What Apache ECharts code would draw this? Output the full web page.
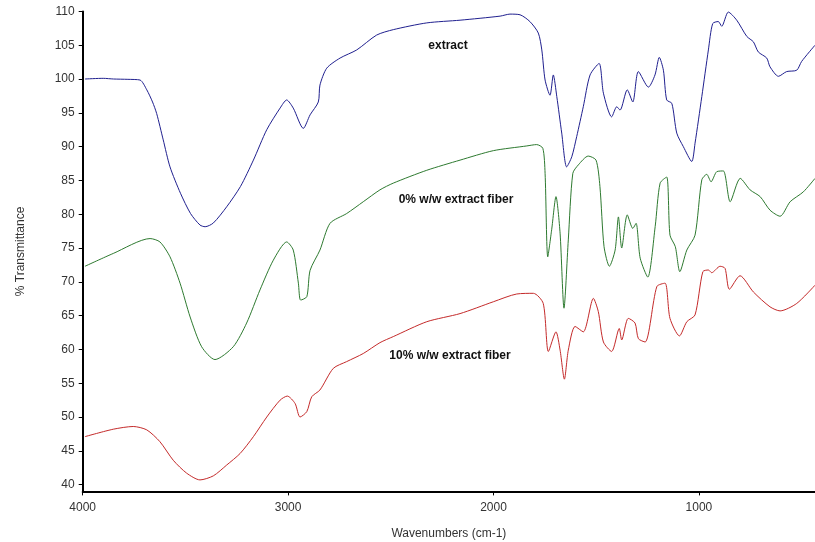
<!DOCTYPE html>
<html>
<head>
<meta charset="utf-8">
<title>FTIR spectra</title>
<script src="https://cdn.jsdelivr.net/npm/echarts@6/dist/echarts.min.js"></script>
<style>
  html, body { margin: 0; padding: 0; background: #ffffff; }
  #chart { width: 815px; height: 542px; }
</style>
</head>
<body>
<div id="chart"></div>
<script>
// Spectrum labels and axis ticks
const seriesNames = ['extract', '0% w/w extract fiber', '10% w/w extract fiber'];
const xTicks = [1000, 2000, 3000, 4000];
const yTicks = [40, 45, 50, 55, 60, 65, 70, 75, 80, 85, 90, 95, 100, 105, 110];

// [wavenumber (cm-1), % transmittance]
const extractSpectrum = [
  [3989,100.0],[3900,100.1],[3850,100.0],[3780,99.95],[3721,99.85],[3688,98.4],[3660,96.6],
  [3640,94.9],[3608,91.0],[3575,87.0],[3524,83.1],[3475,80.1],[3429,78.4],[3404,78.15],
  [3364,78.7],[3299,81.1],[3232,84.1],[3169,88.0],[3104,92.5],[3039,95.7],[3007,96.9],
  [2975,95.7],[2926,92.7],[2893,94.7],[2853,96.6],[2845,99.1],[2812,101.6],[2747,103.1],
  [2666,104.3],[2569,106.5],[2488,107.3],[2325,108.3],[2163,108.7],[1968,109.3],[1920,109.6],
  [1871,109.5],[1823,108.5],[1782,106.8],[1765,104.3],[1749,99.85],[1725,97.6],[1709,100.6],
  [1692,97.4],[1668,92.0],[1644,87.0],[1619,88.5],[1595,91.5],[1563,95.9],[1530,100.6],
  [1486,102.3],[1465,97.9],[1425,94.4],[1400,95.9],[1384,95.4],[1349,98.4],[1322,96.6],
  [1295,101.1],[1246,98.8],[1214,100.6],[1193,103.2],[1173,101.3],[1157,96.9],[1132,96.4],
  [1108,92.0],[1076,90.0],[1035,87.8],[1019,90.5],[986,97.4],[954,104.3],[933,108.2],
  [906,108.5],[889,107.8],[857,109.9],[816,108.7],[767,106.3],[735,105.5],[711,104.0],
  [670,103.1],[654,101.8],[613,100.4],[573,101.1],[524,101.3],[500,102.6],[435,105.0]
];

const fiber0Spectrum = [
  [3989,72.3],[3851,74.2],[3672,76.4],[3624,75.9],[3575,73.7],[3526,69.8],[3477,64.8],
  [3421,60.4],[3356,58.5],[3267,60.4],[3202,63.9],[3137,68.8],[3072,73.2],[3007,75.9],
  [2975,74.7],[2950,69.8],[2939,67.3],[2909,67.8],[2893,71.7],[2845,74.7],[2796,78.65],
  [2715,80.1],[2634,81.85],[2553,83.6],[2488,84.6],[2325,86.5],[2163,88.0],[2001,89.4],
  [1838,90.1],[1790,90.3],[1760,89.75],[1749,86.05],[1736,73.7],[1717,77.7],[1696,82.6],
  [1676,77.2],[1657,66.1],[1636,76.2],[1614,86.05],[1587,87.3],[1539,88.6],[1501,88.0],
  [1482,84.1],[1462,75.2],[1436,72.3],[1408,74.7],[1392,79.6],[1376,75.0],[1349,79.9],
  [1322,77.9],[1306,78.65],[1286,73.5],[1249,70.7],[1213,78.2],[1189,84.6],[1157,85.5],
  [1141,76.9],[1115,75.2],[1093,71.5],[1059,74.7],[1019,76.9],[986,85.1],[962,85.9],
  [941,84.8],[913,86.3],[881,86.4],[848,81.85],[799,85.3],[751,83.6],[702,82.6],
  [654,80.6],[605,79.7],[556,81.85],[492,83.3],[435,85.3]
];

const fiber10Spectrum = [
  [3989,47.1],[3851,48.2],[3754,48.6],[3688,48.1],[3624,46.35],[3559,43.6],[3494,41.7],
  [3429,40.7],[3364,41.3],[3299,42.9],[3234,44.6],[3169,47.1],[3104,50.0],[3039,52.5],
  [3004,53.1],[2966,52.0],[2942,50.0],[2909,50.8],[2885,53.0],[2845,54.0],[2780,57.2],
  [2715,58.2],[2634,59.4],[2553,61.0],[2488,61.9],[2325,64.1],[2163,65.3],[2001,67.05],
  [1887,68.2],[1806,68.3],[1758,66.8],[1733,59.7],[1696,62.6],[1676,59.9],[1655,55.6],
  [1636,59.9],[1603,63.4],[1563,62.6],[1514,67.55],[1490,65.6],[1465,61.1],[1425,59.7],
  [1388,63.1],[1376,61.4],[1344,64.6],[1311,63.9],[1295,61.6],[1262,61.1],[1205,69.3],
  [1165,69.8],[1141,64.6],[1095,62.0],[1059,64.1],[1019,65.1],[981,71.5],[954,71.75],
  [938,71.35],[897,72.3],[873,72.0],[852,68.9],[800,70.9],[735,68.5],[654,66.3],
  [605,65.7],[524,66.8],[435,69.5]
];

const lineColors = ['#20208f', '#2e7a30', '#c42a2a'];
const spectra = [extractSpectrum, fiber0Spectrum, fiber10Spectrum];

const chart = echarts.init(document.getElementById('chart'), null, { renderer: 'canvas' });
const fontFamily = '"Liberation Sans", Arial, sans-serif';
const plainNumber = v => String(v);

chart.setOption({
  animation: false,
  backgroundColor: '#ffffff',
  grid: { left: 82.7, right: 0, top: 11.4, bottom: 50.6, containLabel: false, outerBoundsMode: 'none' },
  xAxis: {
    type: 'value',
    inverse: true,
    min: 435,
    max: 4000,
    name: 'Wavenumbers (cm-1)',
    nameLocation: 'middle',
    nameGap: 36,
    nameTextStyle: { fontFamily, fontSize: 12, color: '#333' },
    axisLine: { onZero: false, lineStyle: { color: '#000', width: 2 } },
    axisTick: { show: true, length: 4, customValues: xTicks, lineStyle: { color: '#000', width: 1 } },
    axisLabel: { customValues: xTicks, formatter: plainNumber, fontFamily, fontSize: 12, color: '#333', margin: 10 },
    splitLine: { show: false }
  },
  yAxis: {
    type: 'value',
    min: 39,
    max: 110,
    name: '% Transmittance',
    nameLocation: 'middle',
    nameGap: 56,
    nameTextStyle: { fontFamily, fontSize: 12, color: '#333' },
    axisLine: { onZero: false, lineStyle: { color: '#000', width: 2 } },
    axisTick: { show: true, length: 4, customValues: yTicks, lineStyle: { color: '#000', width: 1 } },
    axisLabel: { customValues: yTicks, formatter: plainNumber, fontFamily, fontSize: 12, color: '#333', margin: 8 },
    splitLine: { show: false }
  },
  series: spectra.map((data, i) => ({
    name: seriesNames[i],
    type: 'line',
    data: data,
    showSymbol: false,
    smooth: 0.25,
    clip: true,
    lineStyle: { color: lineColors[i], width: 1 },
    itemStyle: { color: lineColors[i] }
  })),
  graphic: [
    { type: 'text', x: 448, y: 46, style: { text: seriesNames[0], textAlign: 'center', textVerticalAlign: 'middle', font: 'bold 12px ' + fontFamily, fill: '#111' } },
    { type: 'text', x: 456, y: 200, style: { text: seriesNames[1], textAlign: 'center', textVerticalAlign: 'middle', font: 'bold 12px ' + fontFamily, fill: '#111' } },
    { type: 'text', x: 450, y: 356, style: { text: seriesNames[2], textAlign: 'center', textVerticalAlign: 'middle', font: 'bold 12px ' + fontFamily, fill: '#111' } }
  ]
});
</script>
</body>
</html>
